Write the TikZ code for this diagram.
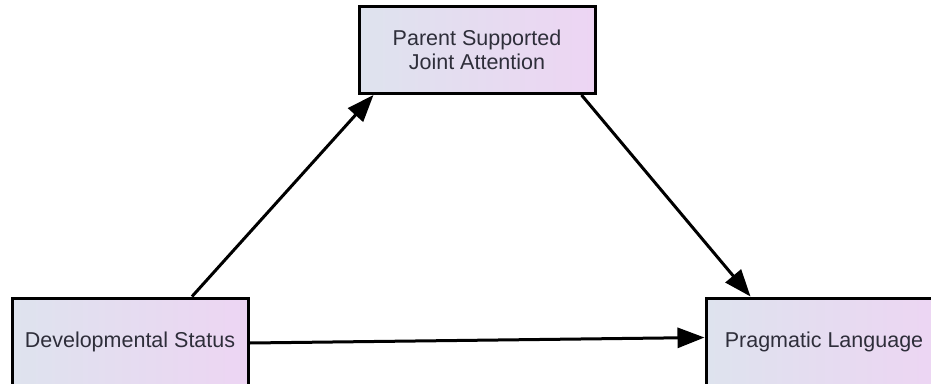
\documentclass[tikz,border=0pt]{standalone}
\usepackage{fontspec}
\setmainfont{Liberation Sans}
\usetikzlibrary{arrows.meta,calc}
\definecolor{txt}{HTML}{2E2E3A}
\definecolor{fillL}{HTML}{DEE3EE}
\definecolor{fillR}{HTML}{EDD5F3}
\tikzset{
  box/.style={draw=black, line width=3pt, left color=fillL, right color=fillR,
    minimum width=236pt, minimum height=87pt, inner sep=0pt, align=center,
    text=txt, font=\fontsize{21.5}{24}\selectfont},
  link/.style={line width=3pt, -{Triangle[length=27pt,width=20pt]}}
}
\begin{document}
\begin{tikzpicture}[x=1pt,y=-1pt]
\useasboundingbox (0,0) rectangle (931,383);
\node[box] (pj) at (477,50) {Parent Supported\\Joint Attention};
\node[box] (ds) at (130,341.5) {Developmental Status};
\node[box] (pl) at (824,341.5) {Pragmatic Language};
\draw[link] ($(ds.north)+(62,0)$) -- ($(pj.south west)+(16,0)$);
\draw[link] ($(pj.south east)+(-15,0)$) -- ($(pl.north west)+(46,0)$);
\draw[link] ($(ds.east)+(0,1.5)$) -- ($(pl.west)+(0,-4)$);
\end{tikzpicture}
\end{document}
